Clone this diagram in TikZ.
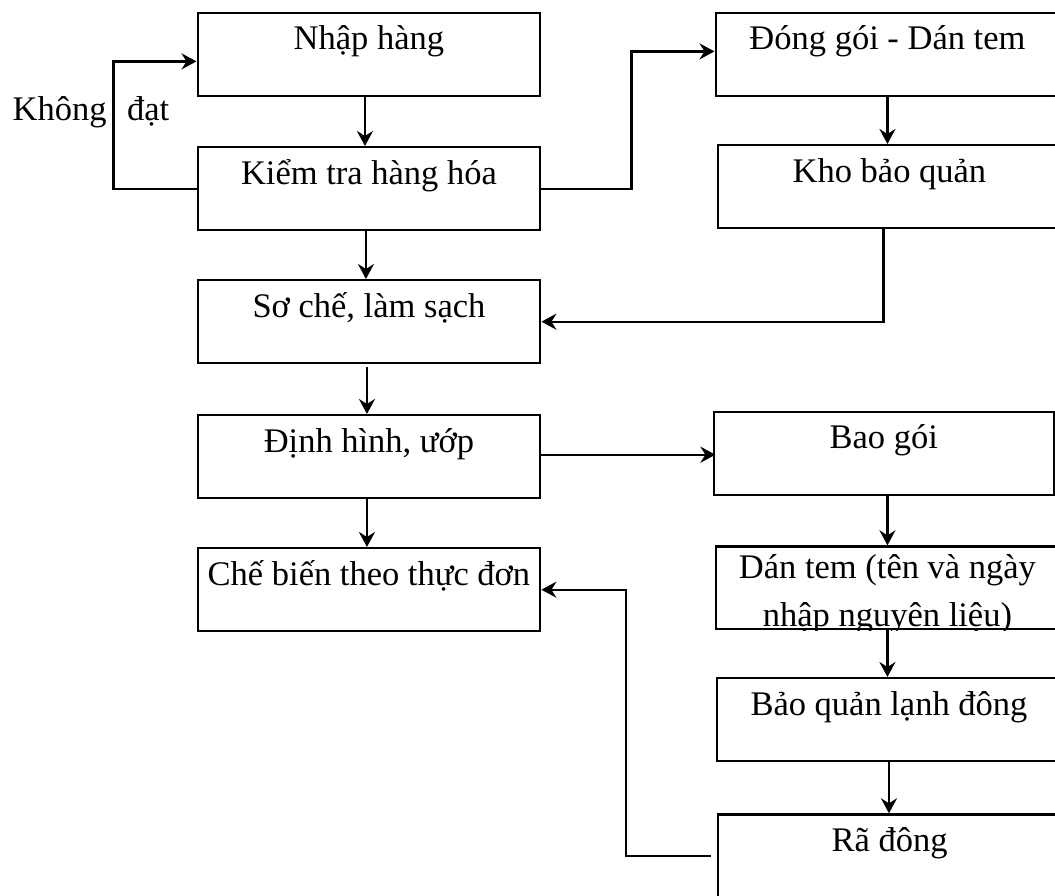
\documentclass[tikz,border=0pt]{standalone}
\usepackage{fontspec}
\setmainfont{Liberation Serif}
\usetikzlibrary{arrows.meta}
\begin{document}
\begin{tikzpicture}[x=1pt,y=-1pt,
  box/.style={draw,line width=2.4pt,rectangle,inner sep=0pt,anchor=north west,
    minimum height=83pt,text height=24pt,text depth=33pt,
    font=\fontsize{34.5}{44.7}\selectfont},
  lbox/.style={box,minimum width=342.5pt},
  rbox/.style={box,minimum width=343.5pt},
  txt/.style={inner sep=0pt,anchor=base,font=\fontsize{34.5}{44.7}\selectfont},
  arr/.style={line width=2.4pt,-{Stealth[length=15pt,width=16pt,inset=5pt]}}]
\useasboundingbox (0,0) rectangle (1055,895);
\clip (0,0) rectangle (1055,895);
% left column
\node[lbox] (nhap) at (196.5,11.7) {Nhập hàng};
\node[lbox] (kiem) at (196.5,146) {Kiểm tra hàng hóa};
\node[lbox] (so) at (196.5,279) {Sơ chế, làm sạch};
\node[lbox] (dinh) at (196.5,414) {Định hình, ướp};
\node[lbox] (che) at (196.5,547) {Chế biến theo thực đơn};
% right column
\node[rbox] (dong) at (714.5,11.7) {Đóng gói - Dán tem};
\node[rbox] (kho) at (716.5,144) {Kho bảo quản};
\node[box,minimum width=339.8pt] (bao) at (712.7,410.7) {Bao gói};
\node[rbox,minimum height=82.5pt] (dan) at (714.5,545.3) {};
\node[rbox] (bqld) at (716,677) {Bảo quản lạnh đông};
\node[rbox] (ra) at (716.7,813.3) {Rã đông};
\begin{scope}
  \clip (dan.north west) rectangle (dan.south east);
  \node[txt] (dan1) at ([yshift=-33pt]dan.north) {Dán tem (tên và ngày};
  \node[txt] (dan2) at ([yshift=-81pt]dan.north) {nhập nguyên liệu)};
\end{scope}
% labels
\node[txt,anchor=base west] (khong) at (12.5,120) {Không};
\node[txt,anchor=base west] (dat) at (126.8,120) {đạt};
% connectors
\draw[arr] ([xshift=-4pt]nhap.south) -- ([xshift=-4pt]kiem.north);
\draw[arr] ([xshift=-3pt]kiem.south) -- ([xshift=-3pt]so.north);
\draw[arr] ([xshift=-2pt,yshift=-3pt]so.south) -- ([xshift=-2pt]dinh.north);
\draw[arr] ([xshift=-2pt]dinh.south) -- ([xshift=-2pt]che.north);
\draw[arr] (kiem.west) -- ++(-83,0) |- ([yshift=-7pt]nhap.west);
\draw[arr] (kiem.east) -- ++(90,0) |- ([yshift=3pt]dong.west);
\draw[arr] (dong.south) -- (dong.south |- kho.north);
\draw[arr] ([xshift=-6pt]kho.south) |- (so.east);
\draw[arr] ([yshift=2pt]dinh.east) -- ++(174,0);
\draw[arr] (dan.north |- bao.south) -- (dan.north);
\draw[arr] (dan.south) -- (dan.south |- bqld.north);
\draw[arr] (bqld.south) -- (bqld.south |- ra.north);
\draw[arr] ([xshift=-6pt]ra.west) -- ++(-85,0) |- (che.east);
\end{tikzpicture}
\end{document}
